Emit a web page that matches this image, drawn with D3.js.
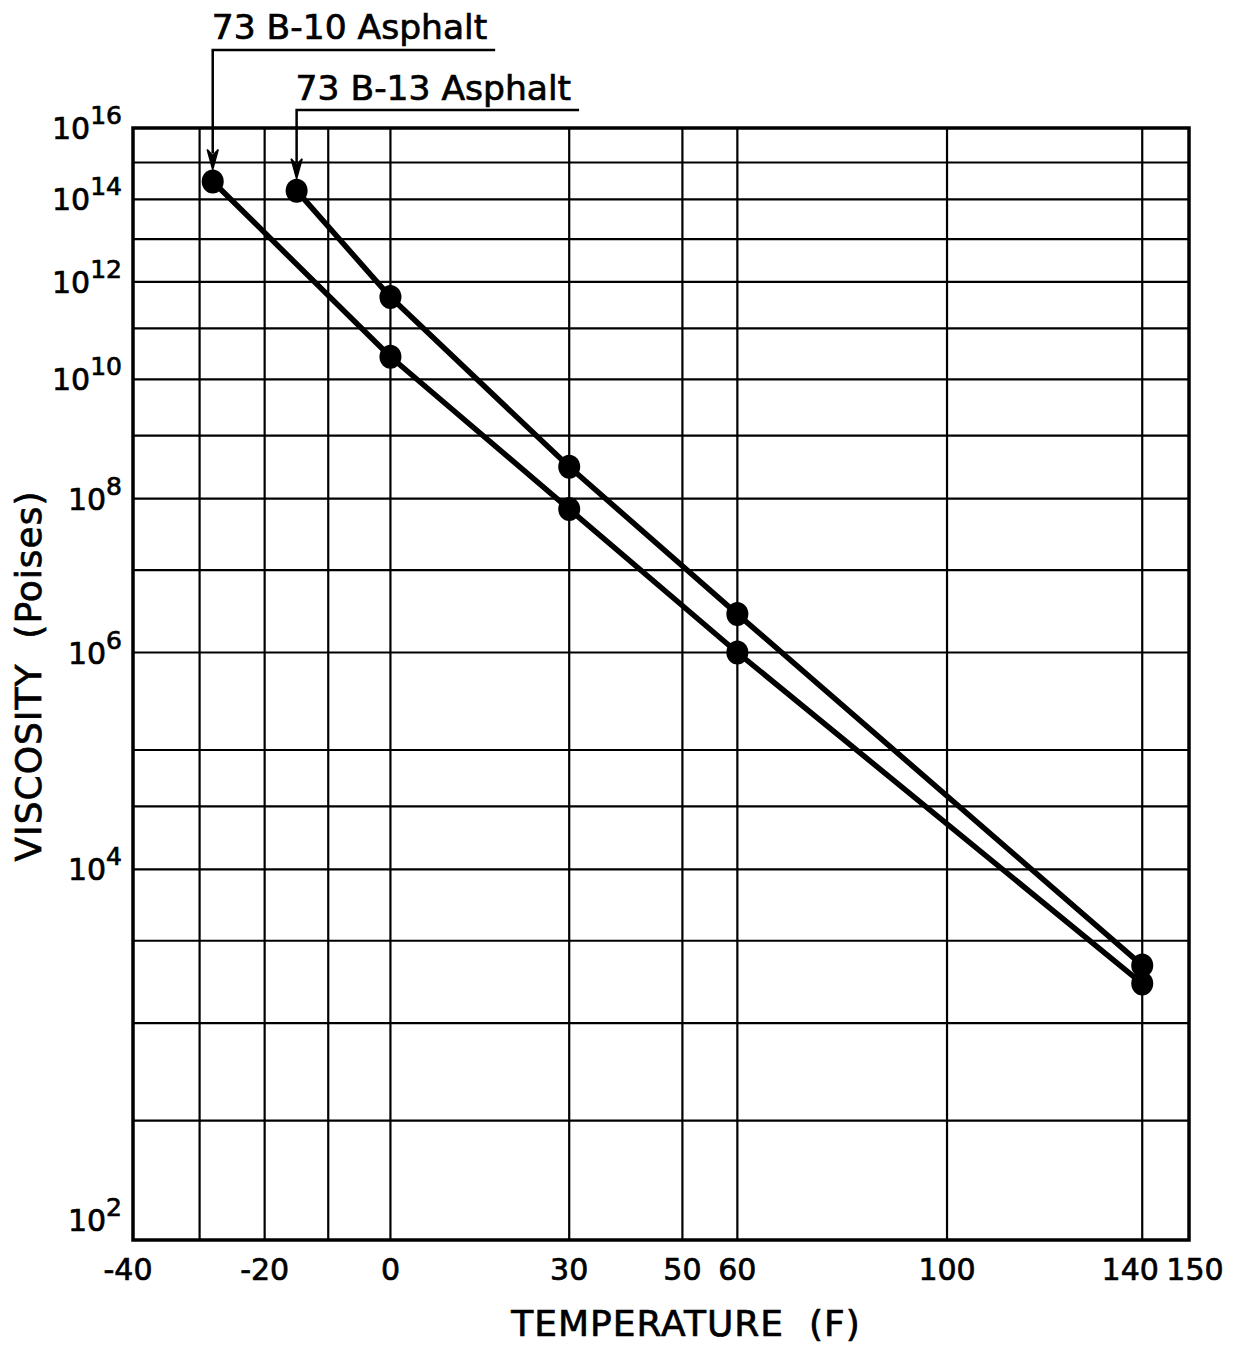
<!DOCTYPE html>
<html>
<head>
<meta charset="utf-8">
<script src="https://cdn.jsdelivr.net/npm/d3@7"></script>
<style>
  html, body { margin: 0; padding: 0; background: #fff; }
  svg { display: block; }
  text { font-family: "DejaVu Sans", sans-serif; fill: #000; stroke: #000; stroke-width: 0.7px; }
</style>
</head>
<body>
<script>
// Viscosity–temperature data for two asphalts (temperature in °F, viscosity in poises)
const b10Temps = [-28, 0, 30, 60, 140];
const b10Visc  = [3.0e14, 2.7e10, 7.0e7, 1.0e6, 1.7e3];
const b13Temps = [-15, 0, 30, 60, 140];
const b13Visc  = [1.7e14, 4.6e11, 3.1e8, 2.8e6, 2.2e3];

const seriesNames = ["73 B-10 Asphalt", "73 B-13 Asphalt"];

// Axis extents and grid
const tempDomain = [-40, 150];
const exponentDomain = [2, 16];            // viscosity 10^2 … 10^16
const xTickValues = [-40, -20, 0, 30, 50, 60, 100, 140, 150];
const xGridValues = [-30, -20, -10, 0, 30, 50, 60, 100, 140];
const yTickExponents = [2, 4, 6, 8, 10, 12, 14, 16];
const yGridExponents = [2.5, 3, 3.5, 4, 4.5, 5, 6, 7, 8, 9, 10, 11, 12, 13, 14, 15];

const W = 1235, H = 1345;
const RANKINE = 459.67;

// Temperature axis: logarithm of absolute temperature (Rankine)
const xAbs = d3.scaleLog()
  .domain(tempDomain.map(t => t + RANKINE))
  .range([133, 1189]);
const x = t => xAbs(t + RANKINE);

// Viscosity axis: log-log (log of the decimal exponent)
const yExp = d3.scaleLog().domain(exponentDomain).range([1240, 128]);
const y = v => yExp(Math.log10(v));
const yE = e => yExp(e);

const svg = d3.select("body").append("svg")
  .attr("width", W).attr("height", H);
svg.append("rect").attr("width", W).attr("height", H).attr("fill", "#fff");

const plotLeft = x(tempDomain[0]), plotRight = x(tempDomain[1]);
const plotTop = yE(exponentDomain[1]), plotBottom = yE(exponentDomain[0]);

// Grid
const grid = svg.append("g").attr("stroke", "#000").attr("stroke-width", 2.2);
grid.selectAll("line.v").data(xGridValues).join("line")
  .attr("class", "v")
  .attr("x1", d => x(d)).attr("x2", d => x(d))
  .attr("y1", plotTop).attr("y2", plotBottom);
grid.selectAll("line.h").data(yGridExponents).join("line")
  .attr("class", "h")
  .attr("x1", plotLeft).attr("x2", plotRight)
  .attr("y1", d => yE(d)).attr("y2", d => yE(d));

// Frame
svg.append("rect")
  .attr("x", plotLeft).attr("y", plotTop)
  .attr("width", plotRight - plotLeft).attr("height", plotBottom - plotTop)
  .attr("fill", "none").attr("stroke", "#000").attr("stroke-width", 3.5);

// X tick labels (the crowded pair at the right end is spread apart)
const xNudge = { 140: -12, 150: 6, [-40]: -5 };
svg.append("g").selectAll("text").data(xTickValues).join("text")
  .attr("x", d => x(d) + (xNudge[d] || 0))
  .attr("y", 1280)
  .attr("text-anchor", "middle")
  .attr("font-size", 30)
  .text(d => String(d));

// Y tick labels 10^n (the lowest one sits above the axis line)
const yLab = svg.append("g").selectAll("text").data(yTickExponents).join("text")
  .attr("x", 122)
  .attr("y", d => yE(d) + 11 - (d === exponentDomain[0] ? 20 : 0))
  .attr("text-anchor", "end")
  .attr("font-size", 30);
yLab.append("tspan").text("10");
yLab.append("tspan").attr("dy", -15).attr("font-size", 25).text(d => d);

// Axis titles
svg.append("text")
  .attr("x", 686).attr("y", 1336)
  .attr("text-anchor", "middle")
  .attr("font-size", 36)
  .style("white-space", "pre")
  .attr("letter-spacing", 1)
  .text("TEMPERATURE  (F)");

svg.append("text")
  .attr("transform", "translate(41,676) rotate(-90)")
  .attr("text-anchor", "middle")
  .attr("font-size", 36)
  .style("white-space", "pre")
  .attr("letter-spacing", 1)
  .text("VISCOSITY  (Poises)");

// Data series
const series = [
  { name: seriesNames[0], pts: b10Temps.map((t, i) => [t, b10Visc[i]]), labelY: 39, leaderY: 50 },
  { name: seriesNames[1], pts: b13Temps.map((t, i) => [t, b13Visc[i]]), labelY: 100, leaderY: 110 }
];

const line = d3.line().x(d => x(d[0])).y(d => y(d[1]));

svg.append("g").selectAll("path").data(series).join("path")
  .attr("d", d => line(d.pts))
  .attr("fill", "none")
  .attr("stroke", "#000")
  .attr("stroke-width", 5.5)
  .attr("stroke-linejoin", "round");

svg.append("g").selectAll("ellipse")
  .data(series.flatMap(s => s.pts))
  .join("ellipse")
  .attr("cx", d => x(d[0]))
  .attr("cy", d => y(d[1]))
  .attr("rx", 11).attr("ry", 12)
  .attr("fill", "#000");

// Series labels with leader arrows to the first (coldest) point
const ann = svg.append("g");
series.forEach(s => {
  const [t0, v0] = s.pts[0];
  const ax = x(t0);
  const tipY = y(v0) - 12;
  const label = ann.append("text")
    .attr("x", ax - 1)
    .attr("y", s.labelY)
    .attr("font-size", 34.5)
    .text(s.name);
  const bb = label.node().getBBox();
  ann.append("path")
    .attr("d", `M${bb.x + bb.width + 8},${s.leaderY} H${ax} V${tipY - 16}`)
    .attr("fill", "none")
    .attr("stroke", "#000")
    .attr("stroke-width", 2.5);
  ann.append("path")
    .attr("d", `M${ax},${tipY} L${ax - 5.5},${tipY - 20} L${ax},${tipY - 14} L${ax + 5.5},${tipY - 20} Z`)
    .attr("fill", "#000")
    .attr("stroke", "#000")
    .attr("stroke-width", 1.5)
    .attr("stroke-linejoin", "miter");
});
</script>
</body>
</html>
